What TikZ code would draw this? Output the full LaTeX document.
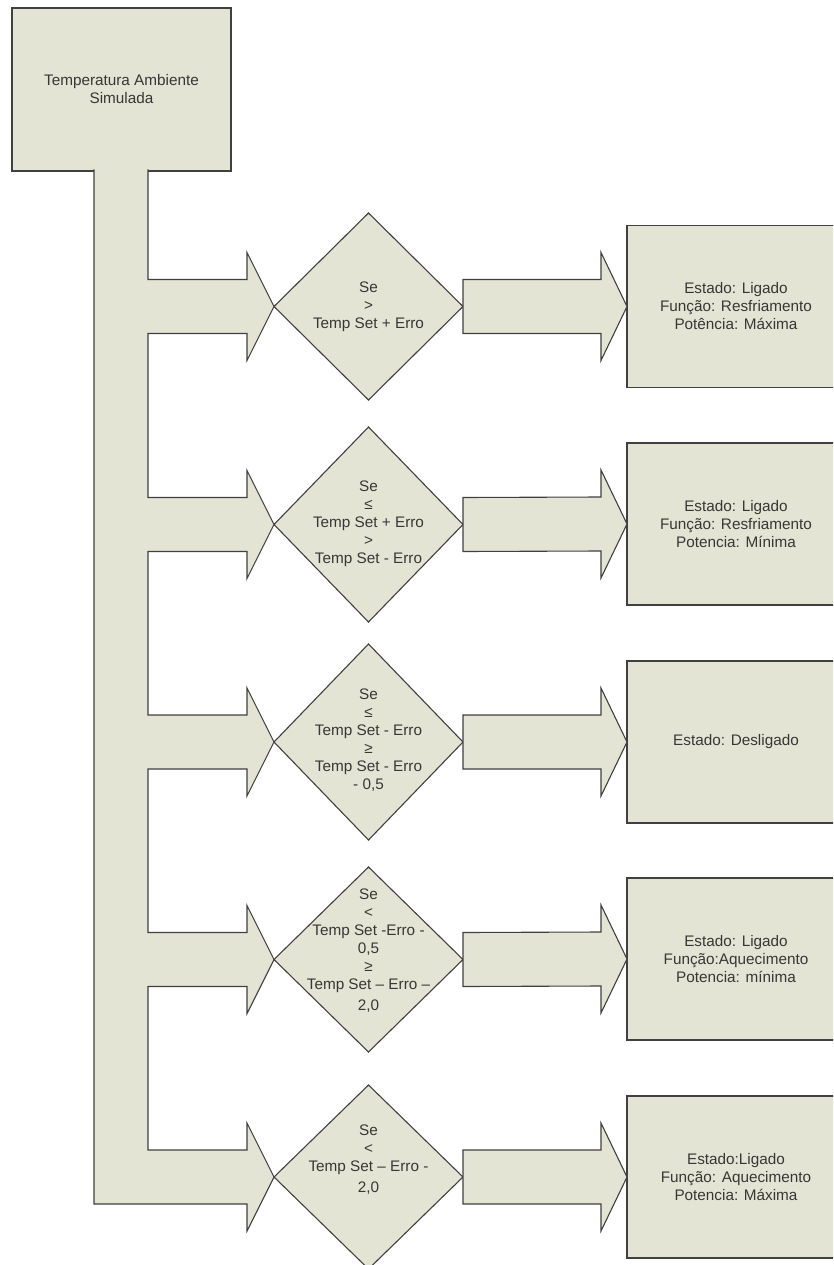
\documentclass[tikz,border=0pt]{standalone}
\usepackage{fontspec}
\setmainfont{Liberation Sans}
\usetikzlibrary{shapes.geometric,calc}
\definecolor{blkfill}{RGB}{228,228,212}
\definecolor{blkline}{RGB}{64,64,64}
\definecolor{txtc}{RGB}{55,55,55}
\begin{document}
\begin{tikzpicture}[x=1pt,y=-1pt,
  blk/.style={fill=blkfill,draw=blkline,line width=1.1pt,line join=miter},
  txtstyle/.style={text=txtc,font=\fontsize{15.3}{18}\selectfont,align=center,inner sep=0pt},
  cond/.style={blk,diamond,inner sep=0pt,outer sep=0pt,minimum width=189pt,minimum height=#1},
  outbox/.style={blk,rectangle,inner sep=0pt,outer sep=0pt,minimum width=218pt,minimum height=162pt}]
\useasboundingbox (0,0) rectangle (833,1265);
\clip (0,0) rectangle (833,1265);

% source box
\node[outbox,txtstyle,minimum width=219pt,minimum height=163pt] (src) at (121.5,89.5) {Temperatura Ambiente\\Simulada};

% decision diamonds
\node[cond=187pt] (d1) at (368.5,306.5) {};
\node[cond=195pt] (d2) at (368.5,524.5) {};
\node[cond=196pt] (d3) at (368.5,742) {};
\node[cond=185pt] (d4) at (368.5,959.5) {};
\node[cond=184pt] (d5) at (368.5,1177) {};

% stem and left block arrows
\coordinate (sL) at (94,0);
\coordinate (sR) at (148,0);
\coordinate (stemtop) at ($(src.south)+(0,-1.5)$);
\foreach \i in {1,...,5}{
  \coordinate (hb\i) at ($(d\i.west)+(-27,27)$);
  \coordinate (ht\i) at ($(d\i.west)+(-27,-27)$);
  \coordinate (pb\i) at ($(d\i.west)+(-27,54)$);
  \coordinate (pt\i) at ($(d\i.west)+(-27,-54)$);
}
\path[blk] (sL |- stemtop) -- (sL |- hb5) -- (hb5) -- (pb5) -- (d5.west) -- (pt5) -- (ht5)
  -- (sR |- ht5) -- (sR |- hb4) -- (hb4) -- (pb4) -- (d4.west) -- (pt4) -- (ht4)
  -- (sR |- ht4) -- (sR |- hb3) -- (hb3) -- (pb3) -- (d3.west) -- (pt3) -- (ht3)
  -- (sR |- ht3) -- (sR |- hb2) -- (hb2) -- (pb2) -- (d2.west) -- (pt2) -- (ht2)
  -- (sR |- ht2) -- (sR |- hb1) -- (hb1) -- (pb1) -- (d1.west) -- (pt1) -- (ht1)
  -- (sR |- ht1) -- (sR |- stemtop);

% diamond texts
\node[txtstyle] (c1) at ($(d1.center)+(0,0)$) {Se\\>\\Temp Set + Erro};
\node[txtstyle] (c2) at ($(d2.center)+(0,-1)$) {Se\\≤\\Temp Set + Erro\\>\\Temp Set - Erro};
\node[txtstyle] (c3) at ($(d3.center)+(0,-1.5)$) {Se\\≤\\Temp Set - Erro\\≥\\Temp Set - Erro\\- 0,5};
\node[txtstyle] (c4) at ($(d4.center)+(0,-8.5)$) {Se\\<\\Temp Set -Erro -\\0,5\\≥\\Temp Set – Erro –\\[3pt]2,0};
\node[txtstyle] (c5) at ($(d5.center)+(0,-17.5)$) {Se\\<\\Temp Set – Erro -\\[3pt]2,0};

% result boxes
\node[outbox,txtstyle] (b1) at (736,306.5) {Estado: Ligado\\Função: Resfriamento\\Potência: Máxima};
\node[outbox,txtstyle] (b2) at (736,524) {Estado: Ligado\\Função: Resfriamento\\Potencia: Mínima};
\node[outbox,txtstyle] (b3) at (736,742) {Estado: Desligado};
\node[outbox,txtstyle] (b4) at (736,959) {Estado: Ligado\\Função:Aquecimento\\Potencia: mínima};
\node[outbox,txtstyle] (b5) at (736,1177) {Estado:Ligado\\Função: Aquecimento\\Potencia: Máxima};

% right block arrows
\foreach \i in {1,...,5}{
  \path[blk] ($(d\i.east)+(0,-27)$) -- ($(b\i.west)+(-26,-27)$) -- ($(b\i.west)+(-26,-54)$)
    -- (b\i.west) -- ($(b\i.west)+(-26,54)$) -- ($(b\i.west)+(-26,27)$)
    -- ($(d\i.east)+(0,27)$) -- cycle;
}
\end{tikzpicture}
\end{document}
